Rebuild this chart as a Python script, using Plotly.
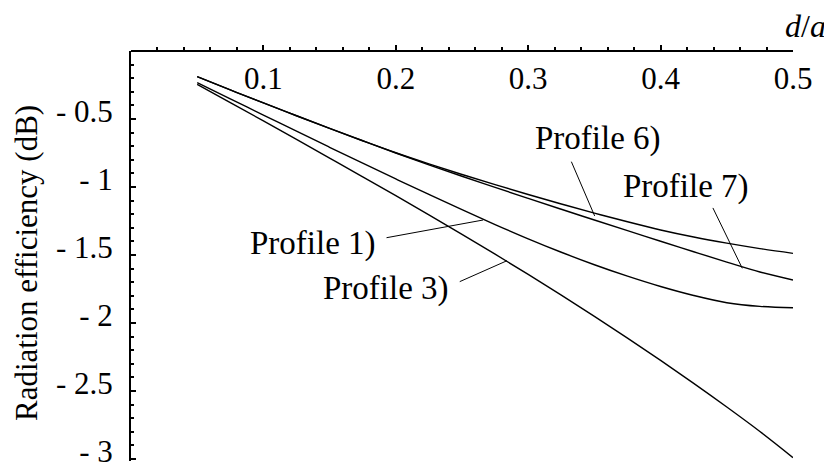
import plotly.graph_objects as go

# d/a sample points
d_over_a = [0.05, 0.075, 0.1, 0.125, 0.15, 0.175, 0.2, 0.225, 0.25, 0.275,
            0.3, 0.325, 0.35, 0.375, 0.4, 0.425, 0.45, 0.475, 0.5]

# radiation efficiency (dB)
profile_1 = [-0.233, -0.352, -0.471, -0.59, -0.708, -0.825, -0.941, -1.055, -1.167, -1.276,
             -1.381, -1.48, -1.572, -1.656, -1.732, -1.798, -1.851, -1.878, -1.888]
profile_3 = [-0.245, -0.379, -0.514, -0.65, -0.787, -0.925, -1.064, -1.205, -1.348, -1.494,
             -1.643, -1.795, -1.951, -2.111, -2.275, -2.444, -2.618, -2.798, -2.99]
profile_6 = [-0.189, -0.286, -0.382, -0.476, -0.569, -0.66, -0.748, -0.83, -0.908, -0.983,
             -1.055, -1.125, -1.192, -1.256, -1.316, -1.368, -1.413, -1.453, -1.488]
profile_7 = [-0.189, -0.286, -0.382, -0.476, -0.569, -0.66, -0.75, -0.837, -0.921, -1.003,
             -1.084, -1.164, -1.243, -1.321, -1.399, -1.476, -1.552, -1.625, -1.684]

x_tick_vals = [0.1, 0.2, 0.3, 0.4, 0.5]
x_tick_text = ["0.1", "0.2", "0.3", "0.4", "0.5"]
y_tick_vals = [-0.5, -1, -1.5, -2, -2.5, -3]
y_tick_text = ["- 0.5", "- 1", "- 1.5", "- 2", "- 2.5", "- 3"]

# label text, text centre, pointer start, pointer end (data coords)
labels = [
    ("Profile 6)", (0.3525, -0.64), (0.3326, -0.814), (0.3502, -1.213)),
    ("Profile 7)", (0.4189, -0.993), (0.4395, -1.154), (0.4617, -1.598)),
    ("Profile 1)", (0.1374, -1.419), (0.193, -1.373), (0.2659, -1.243)),
    ("Profile 3)", (0.1925, -1.743), (0.2483, -1.696), (0.284, -1.542)),
]

FONT = "'Liberation Serif', 'Times New Roman', 'DejaVu Serif', serif"

fig = go.Figure()
for ys in [profile_1, profile_3, profile_6, profile_7]:
    fig.add_trace(go.Scatter(x=d_over_a, y=ys, mode="lines",
                             line=dict(color="black", width=1.4, shape="spline", smoothing=1),
                             hoverinfo="skip"))

for text, (tx, ty), (x0, y0), (x1, y1) in labels:
    fig.add_annotation(x=tx, y=ty, text=text, showarrow=False,
                       xanchor="center", yanchor="middle",
                       font=dict(family=FONT, size=33, color="black"))
    fig.add_shape(type="line", x0=x0, y0=y0, x1=x1, y1=y1,
                  line=dict(color="black", width=1))

fig.add_annotation(x=1.0196, y=1.061, xref="paper", yref="paper", text="<i>d</i>/<i>a</i>",
                   xanchor="center", yanchor="middle", showarrow=False,
                   font=dict(family=FONT, size=32, color="black"))
fig.add_annotation(x=-0.157, y=0.483, xref="paper", yref="paper",
                   text="Radiation efficiency (dB)", textangle=-90, showarrow=False,
                   xanchor="center", yanchor="middle",
                   font=dict(family=FONT, size=31, color="black"))

# the page body adds an 8 px offset, so the figure is 8 px smaller than the window
fig.update_layout(
    width=824, height=459,
    margin=dict(l=123, r=39, t=43, b=6),
    paper_bgcolor="white", plot_bgcolor="white",
    showlegend=False,
    font=dict(family=FONT, size=31, color="black"),
)
# x axis sits on the top edge of the plot, labels below it, ticks pointing up
fig.update_xaxes(
    range=[0, 0.5], anchor="free", position=1, side="bottom", automargin=False,
    showgrid=False, zeroline=False,
    showline=True, linewidth=2, linecolor="black",
    tickmode="array", tickvals=x_tick_vals, ticktext=x_tick_text,
    ticks="inside", ticklen=5, tickwidth=2, tickcolor="black",
    ticklabelstandoff=0,
    minor=dict(tickmode="linear", tick0=0, dtick=0.02, ticks="inside",
               ticklen=3, tickwidth=1.5, tickcolor="black"),
    tickfont=dict(family=FONT, size=31, color="black"),
)
fig.update_yaxes(
    range=[-3.015, 0], automargin=False, showgrid=False, zeroline=False,
    showline=True, linewidth=2, linecolor="black",
    tickmode="array", tickvals=y_tick_vals, ticktext=y_tick_text,
    ticks="inside", ticklen=5, tickwidth=2, tickcolor="black",
    ticklabelstandoff=10, ticklabelshift=-8, ticklabeloverflow="allow",
    minor=dict(tickmode="linear", tick0=0, dtick=0.1, ticks="inside",
               ticklen=3, tickwidth=1.5, tickcolor="black"),
    tickfont=dict(family=FONT, size=31, color="black"),
)

fig.write_html("out.html")
